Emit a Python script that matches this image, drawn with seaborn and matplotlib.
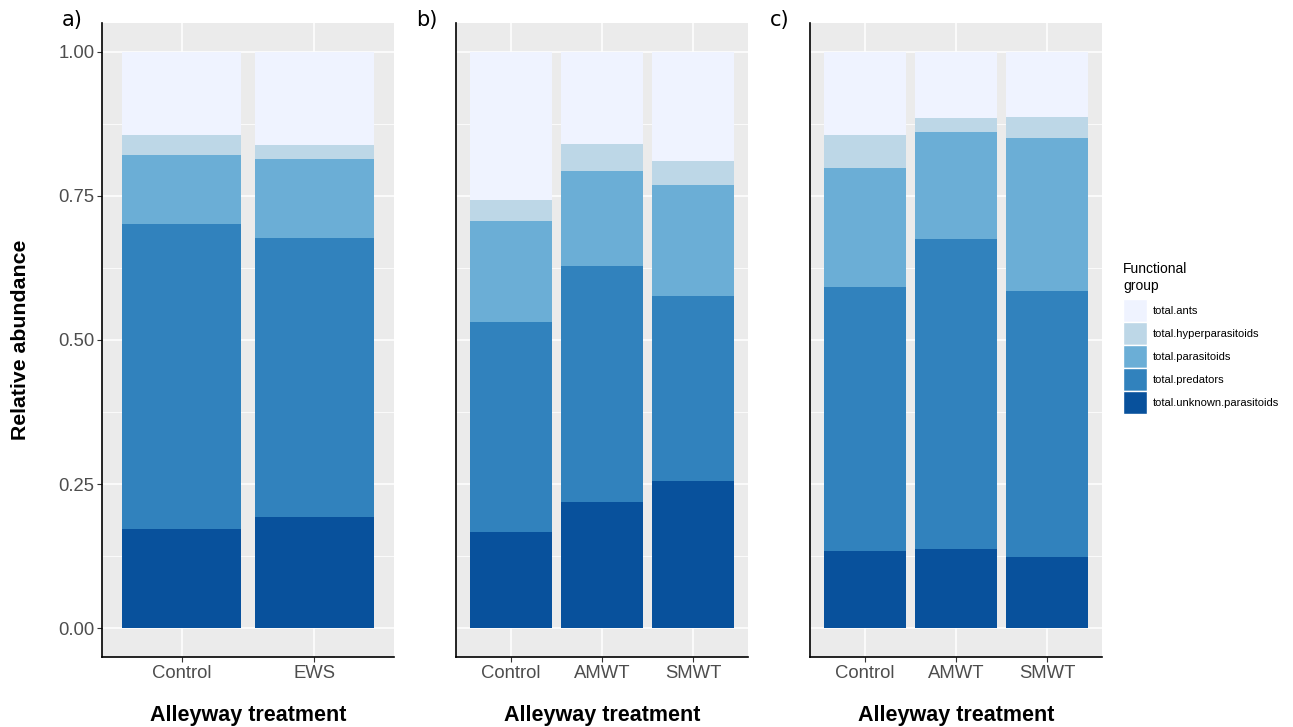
import matplotlib
matplotlib.use('Agg')
import matplotlib.pyplot as plt
import matplotlib.patches as mpatches
import numpy as np
import pandas as pd
import seaborn as sns

# functional groups, top of stack first
groups = ['total.ants', 'total.hyperparasitoids', 'total.parasitoids',
          'total.predators', 'total.unknown.parasitoids']
colors = ['#EFF3FF', '#BDD7E7', '#6BAED6', '#3182BD', '#08519C']

# panel a
trt_a = ['Control', 'EWS']
a_ants = [0.144, 0.161]
a_hyper = [0.035, 0.025]
a_para = [0.120, 0.137]
a_pred = [0.529, 0.484]
a_unk = [0.172, 0.193]

# panel b
trt_b = ['Control', 'AMWT', 'SMWT']
b_ants = [0.257, 0.160, 0.189]
b_hyper = [0.036, 0.047, 0.042]
b_para = [0.176, 0.165, 0.193]
b_pred = [0.364, 0.409, 0.321]
b_unk = [0.167, 0.219, 0.255]

# panel c
trt_c = ['Control', 'AMWT', 'SMWT']
c_ants = [0.144, 0.115, 0.113]
c_hyper = [0.057, 0.024, 0.036]
c_para = [0.207, 0.186, 0.266]
c_pred = [0.458, 0.538, 0.462]
c_unk = [0.134, 0.137, 0.123]

y_ticks = [0.0, 0.25, 0.5, 0.75, 1.0]
y_ticklabels = ['0.00', '0.25', '0.50', '0.75', '1.00']
y_minor = [0.125, 0.375, 0.625, 0.875]

panels = [
    ('a)', trt_a, [a_ants, a_hyper, a_para, a_pred, a_unk]),
    ('b)', trt_b, [b_ants, b_hyper, b_para, b_pred, b_unk]),
    ('c)', trt_c, [c_ants, c_hyper, c_para, c_pred, c_unk]),
]

plt.rcParams['font.family'] = ['Liberation Sans', 'DejaVu Sans']

fig = plt.figure(figsize=(12.93, 7.27), dpi=100)
lefts = [102, 456, 810]
width_px = 292
bottom = 1 - 657 / 727
top = 1 - 23 / 727

for i, (tag, trts, vals) in enumerate(panels):
    ax = fig.add_axes([lefts[i] / 1293, bottom, width_px / 1293, top - bottom])
    ax.set_facecolor('#EBEBEB')
    # cumulative heights from the bottom layer up
    seg = np.array(vals)            # rows: groups top->bottom
    cum = np.cumsum(seg[::-1], axis=0)[::-1]
    df = pd.DataFrame(cum.T, columns=groups)
    df['trt'] = trts
    for g, col in zip(groups, colors):
        sns.barplot(data=df, x='trt', y=g, order=trts, color=col,
                    saturation=1, width=0.9, ax=ax, zorder=3, errorbar=None)
    n = len(trts)
    ax.set_xlim(-0.6, n - 0.4)
    ax.set_ylim(-0.05, 1.05)
    ax.set_yticks(y_ticks)
    ax.set_yticks(y_minor, minor=True)
    ax.grid(which='major', color='white', linewidth=1.1, zorder=0)
    ax.grid(which='minor', axis='y', color='white', linewidth=0.55, zorder=0)
    ax.set_axisbelow(True)
    for s in ['top', 'right']:
        ax.spines[s].set_visible(False)
    for s in ['left', 'bottom']:
        ax.spines[s].set_color('black')
        ax.spines[s].set_linewidth(1.2)
    ax.tick_params(axis='x', which='major', length=3.5, color='#333333',
                   labelsize=13.3, labelcolor='#4D4D4D', pad=2)
    ax.tick_params(axis='y', which='minor', length=0)
    if i == 0:
        ax.set_yticklabels(y_ticklabels)
        ax.tick_params(axis='y', which='major', length=3.5, color='#333333',
                       labelsize=13.3, labelcolor='#4D4D4D', pad=2)
        ax.set_ylabel('Relative abundance', fontsize=15.3, fontweight='bold',
                      labelpad=20)
    else:
        ax.tick_params(axis='y', which='major', length=0, labelleft=False)
        ax.set_ylabel('')
    ax.set_xlabel('Alleyway treatment', fontsize=15.5, fontweight='bold',
                  labelpad=17)
    fig.text((lefts[i] - 40) / 1293, 1 - 20 / 727, tag, fontsize=15,
             ha='left', va='center', family='DejaVu Sans')

handles = [mpatches.Patch(facecolor=c, edgecolor='white', linewidth=1.0)
           for c in colors]
leg = fig.legend(handles, groups, loc='upper left',
                 bbox_to_anchor=(1120 / 1293, 1 - 259 / 727),
                 frameon=False, fontsize=8, title='Functional\ngroup',
                 title_fontsize=10, handlelength=2.1, handleheight=2.8,
                 handletextpad=0.55, labelspacing=0.0, borderaxespad=0,
                 borderpad=0.3)
leg._legend_box.align = 'left'
leg._legend_box.sep = 5

fig.savefig('out.png', dpi=100)
